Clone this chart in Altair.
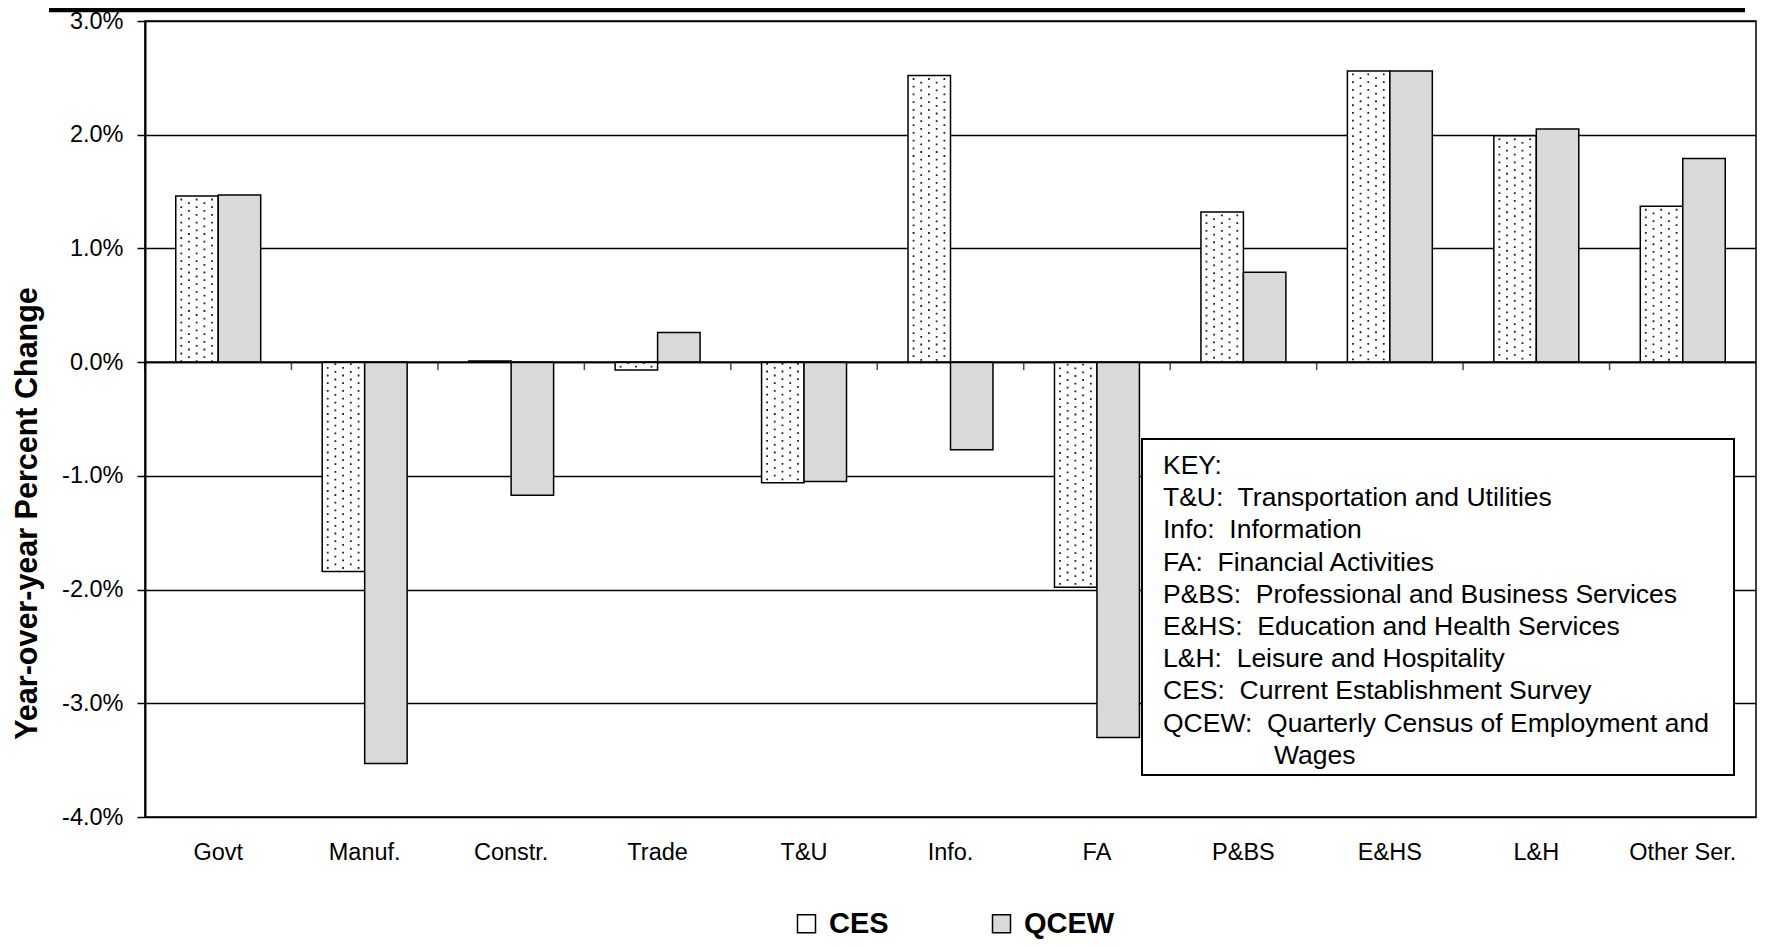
import altair as alt
import pandas as pd

# ---------------- data ----------------
categories = ["Govt", "Manuf.", "Constr.", "Trade", "T&U", "Info.", "FA",
              "P&BS", "E&HS", "L&H", "Other Ser."]
ces_values = [1.46, -1.84, 0.01, -0.07, -1.06, 2.52, -1.98, 1.32, 2.56, 1.99, 1.37]
qcew_values = [1.47, -3.53, -1.17, 0.26, -1.05, -0.77, -3.30, 0.79, 2.56, 2.05, 1.79]
series_names = ["CES", "QCEW"]
series_colors = ["#ffffff", "#d9d9d9"]
y_ticks = [-4, -3, -2, -1, 0, 1, 2, 3]
NB = "\u00a0"
key_lines = [
    "KEY:",
    "T&U:" + NB + " Transportation and Utilities",
    "Info:" + NB + " Information",
    "FA:" + NB + " Financial Activities",
    "P&BS:" + NB + " Professional and Business Services",
    "E&HS:" + NB + " Education and Health Services",
    "L&H:" + NB + " Leisure and Hospitality",
    "CES:" + NB + " Current Establishment Survey",
    "QCEW:" + NB + " Quarterly Census of Employment and",
]
key_continuation = "Wages"
y_title = "Year-over-year Percent Change"

# ---------------- layout ----------------
FONT = "Liberation Sans"
W, H = 1611, 796
STEP = W / len(categories)
y_min, y_max = y_ticks[0], y_ticks[-1]
KEY_FS = 26.5
KEY_LH = 32.2

rows = []
for c, a, b in zip(categories, ces_values, qcew_values):
    rows.append({"cat": c, "series": series_names[0], "value": a})
    rows.append({"cat": c, "series": series_names[1], "value": b})
df = pd.DataFrame(rows)
ces_df = pd.DataFrame({"cat": categories, "value": ces_values})

xscale = alt.Scale(domain=categories, paddingInner=0.42, paddingOuter=0.21)
yscale = alt.Scale(domain=[y_min, y_max], nice=False)

y_axis = alt.Axis(values=y_ticks,
                  labelExpr="(datum.value < 0 ? '-' : '') + format(abs(datum.value), '.1f') + '%'",
                  grid=True, gridColor="black", gridWidth=1.5,
                  domain=True, domainColor="black", domainWidth=2,
                  ticks=True, tickColor="black", tickSize=8, tickWidth=1.5,
                  labelFontSize=23.5, labelFont=FONT, labelColor="black",
                  labelPadding=14,
                  title=y_title, titleFontSize=30.5, titleFont=FONT,
                  titleFontWeight="bold", titleColor="black",
                  titleX=-103, titleY=492, titleAngle=-90,
                  titleBaseline="bottom", titleAlign="center")

bars = alt.Chart(df).mark_bar(stroke="black", strokeWidth=1.5).encode(
    x=alt.X("cat:N", scale=xscale, sort=categories, title=None,
            axis=alt.Axis(title=None, orient="bottom", domain=False, ticks=False,
                          tickSize=0, labelAngle=0, labelPadding=23,
                          labelFontSize=23.5, labelFont=FONT, labelColor="black",
                          grid=False)),
    xOffset=alt.XOffset("series:N", sort=series_names),
    y=alt.Y("value:Q", scale=yscale, title=y_title, axis=y_axis),
    color=alt.Color("series:N", sort=series_names,
                    scale=alt.Scale(domain=series_names, range=series_colors),
                    legend=alt.Legend(title=None, orient="none", legendX=647, legendY=888,
                                      direction="horizontal", symbolType="square",
                                      symbolSize=324, symbolStrokeColor="black",
                                      symbolStrokeWidth=1.5, symbolOpacity=1,
                                      labelFontSize=29, labelFontWeight="bold",
                                      labelFont=FONT, labelColor="black",
                                      labelOffset=8, columnPadding=98)),
)

# dotted pattern of the CES bars, drawn as dashed rules inside each bar
dot_cols = [0.065, 0.155, 0.246, 0.337, 0.428]
dot_layers = []
for i, bp in enumerate(dot_cols):
    dot_layers.append(
        alt.Chart(ces_df).mark_rule(
            color="#222222", strokeWidth=1.8, strokeDash=[1.8, 5.9],
            strokeDashOffset=(5.2 if i % 2 == 0 else 1.5)
        ).encode(
            x=alt.X("cat:N", scale=xscale, sort=categories, bandPosition=bp, title=None),
            y=alt.Y("value:Q", scale=yscale, title=y_title),
            y2=alt.datum(0),
        )
    )

# zero line and the category separator ticks hanging below it (Excel style)
zero_line = alt.Chart(alt.Data(values=[{}])).mark_rule(color="black", strokeWidth=2).encode(
    y=alt.Y(datum=0, scale=yscale, title=y_title)
)
sep_ticks = alt.Chart(ces_df).mark_tick(
    orient="vertical", size=8, thickness=1.5, color="black",
    xOffset=-STEP / 2, yOffset=4
).encode(
    x=alt.X("cat:N", scale=xscale, sort=categories, bandPosition=0.5, title=None),
    y=alt.Y(datum=0, scale=yscale, title=y_title),
)

one = alt.Data(values=[{}])
key_box = alt.Chart(one).mark_rect(fill="white", stroke="black", strokeWidth=2).encode(
    x=alt.value(997), x2=alt.value(1589), y=alt.value(418), y2=alt.value(754)
)
key_text = alt.Chart(one).mark_text(
    align="left", baseline="top", fontSize=KEY_FS, font=FONT, lineHeight=KEY_LH, color="black"
).encode(x=alt.value(1018), y=alt.value(432), text=alt.value(key_lines))
key_text2 = alt.Chart(one).mark_text(
    align="left", baseline="top", fontSize=KEY_FS, font=FONT, color="black"
).encode(x=alt.value(1129), y=alt.value(432 + KEY_LH * len(key_lines)),
         text=alt.value(key_continuation))

top_rule = alt.Chart(one).mark_rule(color="black", strokeWidth=4.5).encode(
    x=alt.value(-96), x2=alt.value(1600), y=alt.value(-11)
)

chart = alt.layer(
    bars, *dot_layers, zero_line, sep_ticks, key_box, key_text, key_text2, top_rule
).properties(
    width=W, height=H,
    padding={"left": 137, "top": 13, "right": 2, "bottom": 122},
    autosize=alt.AutoSizeParams(type="none"),
).configure(font=FONT).configure_view(stroke="black", strokeWidth=1.5)

chart.save("out.html", embed_options={"renderer": "svg", "actions": False})
